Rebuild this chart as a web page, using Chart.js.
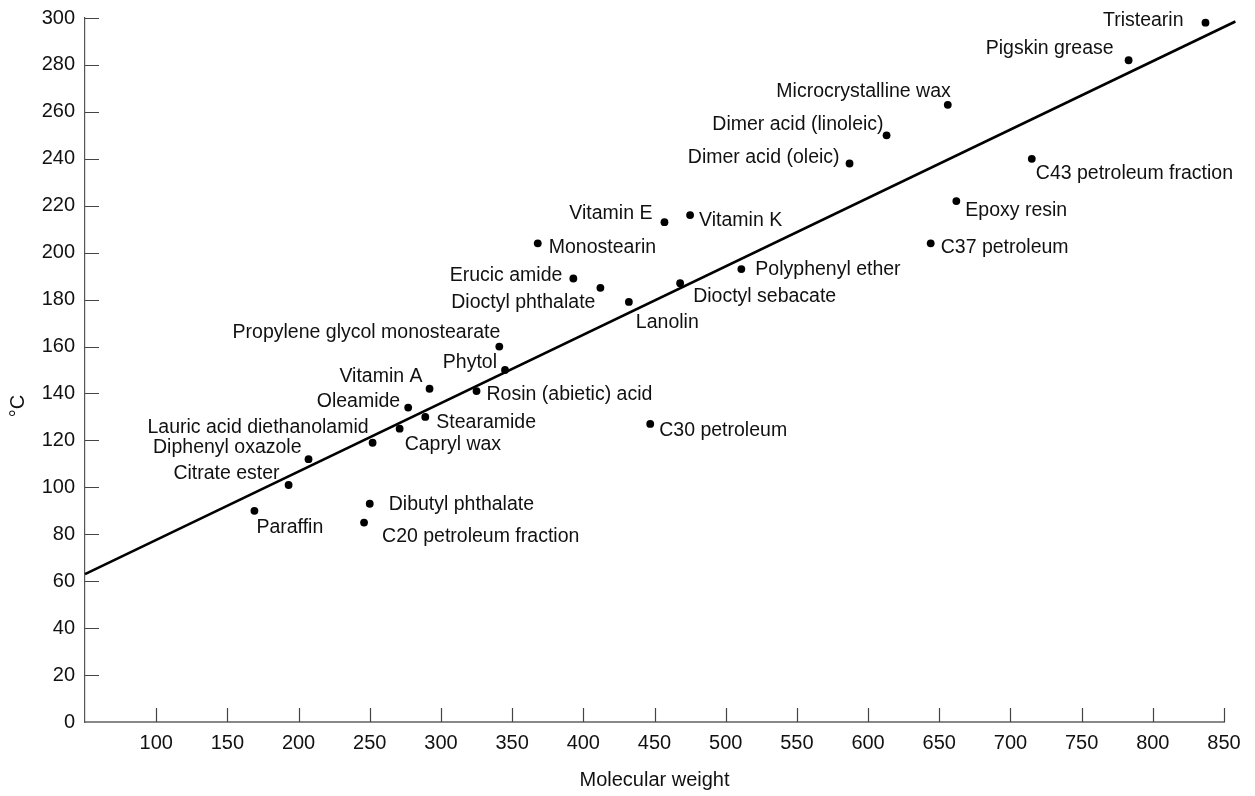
<!DOCTYPE html>
<html>
<head>
<meta charset="utf-8">
<script src="https://cdn.jsdelivr.net/npm/chart.js@4"></script>
<style>
  html, body { margin: 0; padding: 0; background: #fff; }
  #wrap { width: 1255px; height: 796px; position: relative; }
</style>
</head>
<body>
<div id="wrap"><canvas id="chart"></canvas></div>
<script>
// compounds, molecular weight, temperature (°C)
const names = ['Tristearin','Pigskin grease','Microcrystalline wax','Dimer acid (linoleic)','Dimer acid (oleic)',
  'C43 petroleum fraction','Epoxy resin','C37 petroleum','Vitamin K','Vitamin E','Monostearin','Erucic amide',
  'Dioctyl phthalate','Lanolin','Dioctyl sebacate','Polyphenyl ether','Propylene glycol monostearate','Phytol',
  'Vitamin A','Rosin (abietic) acid','Oleamide','Stearamide','Capryl wax','C30 petroleum',
  'Lauric acid diethanolamid','Diphenyl oxazole','Citrate ester','Paraffin','Dibutyl phthalate','C20 petroleum fraction'];
const molWeight = [837, 783, 656, 613, 587, 715, 662, 644, 475, 457, 368, 393, 412, 432, 468, 511, 341, 345,
  292, 325, 277, 289, 271, 447, 252, 207, 193, 169, 250, 246];
const tempC = [298, 282, 263, 250, 238, 240, 222, 204, 216, 213, 204, 189, 185, 179, 187, 193, 160, 150,
  142, 141, 134, 130, 125, 127, 119, 112, 101, 90, 93, 85];

// fitted straight line
const fitX = [50, 858];
const fitY = [63, 298.5];

// label placement relative to each dot (px)
const labelDx = [-22, -15, 3, -3, -10, 4, 9, 10, 9, -12, 11, -11, -5, 7, 13, 14, 1, -8, -7, 10, -8, 11, 5, 9, -4, -7, -9, 2, 19, 18];
const labelDy = [3, -6, -8, -5, 0, 20, 15, 10, 11, -3, 10, 3, 20, 26, 19, 6, -9, -2, -7, 9, -1, 11, 21, 12, -10, -6, -6, 22, 6, 19];
const labelAlign = ['right','right','right','right','right','left','left','left','left','right','left','right',
  'right','left','left','left','right','right','right','left','right','left','left','left','right','right','right',
  'left','left','left'];

const FONT = '"Liberation Sans", Arial, sans-serif';

const pointLabels = {
  id: 'pointLabels',
  afterDatasetsDraw(chart) {
    const ctx = chart.ctx;
    const meta = chart.getDatasetMeta(0);
    ctx.save();
    ctx.font = '19.5px ' + FONT;
    ctx.fillStyle = '#111';
    ctx.textBaseline = 'alphabetic';
    meta.data.forEach((el, i) => {
      ctx.textAlign = labelAlign[i];
      ctx.fillText(names[i], el.x + labelDx[i], el.y + labelDy[i]);
    });
    ctx.restore();
  }
};

// tick marks pointing into the plot, plus the rotated °C title
const axisDecor = {
  id: 'axisDecor',
  afterDraw(chart) {
    const ctx = chart.ctx;
    const { left, bottom } = chart.chartArea;
    const xs = chart.scales.x, ys = chart.scales.y;
    ctx.save();
    ctx.strokeStyle = '#444';
    ctx.lineWidth = 1.2;
    ctx.beginPath();
    xs.ticks.forEach(t => {
      if (t.value === xs.min) return;
      const px = Math.round(xs.getPixelForValue(t.value)) + 0.5;
      ctx.moveTo(px, bottom);
      ctx.lineTo(px, bottom - 14);
    });
    ys.ticks.forEach(t => {
      if (t.value === ys.min) return;
      const py = Math.round(ys.getPixelForValue(t.value)) + 0.5;
      ctx.moveTo(left, py);
      ctx.lineTo(left + 14, py);
    });
    ctx.stroke();

    ctx.translate(18, 406);
    ctx.rotate(-Math.PI / 2);
    ctx.font = '20px ' + FONT;
    ctx.fillStyle = '#111';
    ctx.textAlign = 'center';
    ctx.textBaseline = 'middle';
    ctx.fillText('°C', 0, 0);
    ctx.restore();
  }
};

new Chart(document.getElementById('chart'), {
  type: 'scatter',
  data: {
    datasets: [
      {
        label: 'Compounds',
        data: molWeight.map((x, i) => ({ x, y: tempC[i] })),
        pointRadius: 3.9,
        pointBackgroundColor: '#000',
        pointBorderWidth: 0,
        showLine: false
      },
      {
        label: 'Fit',
        data: fitX.map((x, i) => ({ x, y: fitY[i] })),
        showLine: true,
        pointRadius: 0,
        borderColor: '#000',
        borderWidth: 2.6,
        clip: false
      }
    ]
  },
  options: {
    responsive: true,
    maintainAspectRatio: false,
    animation: false,
    layout: { padding: { top: 18, right: 31, left: 0, bottom: 0 } },
    plugins: { legend: { display: false }, tooltip: { enabled: false } },
    scales: {
      x: {
        type: 'linear', min: 50, max: 850,
        afterFit: s => { s.height = 74; s.paddingLeft = 0; s.paddingRight = 0; },
        grid: { display: false, drawTicks: false },
        border: { display: true, color: '#888', width: 2 },
        ticks: {
          stepSize: 50, padding: 9, color: '#111', font: { family: FONT, size: 20 },
          maxRotation: 0, autoSkip: false,
          callback: v => v === 50 ? '' : v
        },
        title: { display: true, text: 'Molecular weight', color: '#111', font: { family: FONT, size: 20 } }
      },
      y: {
        min: 0, max: 300,
        afterFit: s => { s.width = 85; s.paddingTop = 0; s.paddingBottom = 0; },
        grid: { display: false, drawTicks: false },
        border: { display: true, color: '#555', width: 1.2 },
        ticks: { stepSize: 20, padding: 10, color: '#111', font: { family: FONT, size: 20 } }
      }
    }
  },
  plugins: [pointLabels, axisDecor]
});
</script>
</body>
</html>
